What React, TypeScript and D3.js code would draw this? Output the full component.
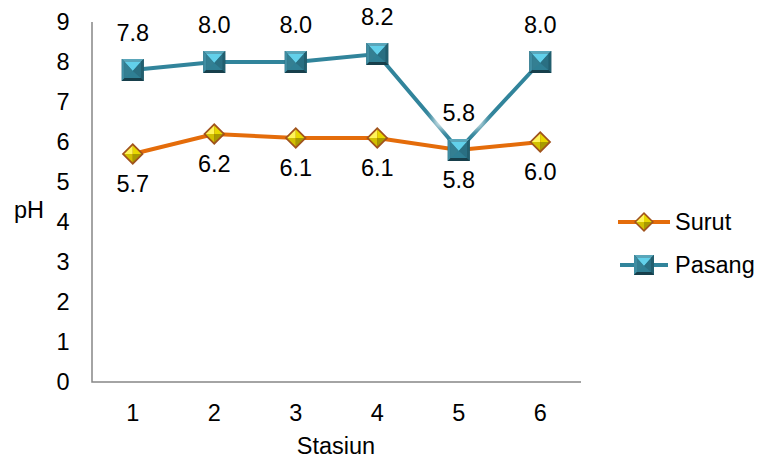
import React from "react";
import * as d3 from "d3";

const stations = ["1", "2", "3", "4", "5", "6"];
const surut = [5.7, 6.2, 6.1, 6.1, 5.8, 6.0];
const pasang = [7.8, 8.0, 8.0, 8.2, 5.8, 8.0];
const yTicks = [0, 1, 2, 3, 4, 5, 6, 7, 8, 9];

const W = 759;
const H = 461;
const margin = { left: 92, right: 178, top: 22, bottom: 79 };
const FONT = "'Liberation Sans', Arial, sans-serif";
const FS = 23.5;

const ORANGE = "#E46C0A";
const TEAL = "#31849B";

function Diamond({ x, y, s = 11 }: { x: number; y: number; s?: number }) {
  const t = [x, y - s], r = [x + s, y], b = [x, y + s], l = [x - s, y];
  const c = [x, y];
  const tri = (p: number[][]) => p.map((q) => q.join(",")).join(" ");
  return (
    <g>
      <polygon points={tri([t, r, b, l])} fill="#a0521c" />
      <g transform={`translate(${x},${y}) scale(0.78) translate(${-x},${-y})`}>
        <polygon points={tri([t, c, l])} fill="#fff45a" />
        <polygon points={tri([t, r, c])} fill="#e8d800" />
        <polygon points={tri([l, c, b])} fill="#d2c000" />
        <polygon points={tri([c, r, b])} fill="#a89a00" />
      </g>
    </g>
  );
}

function Square({ x, y, s = 11 }: { x: number; y: number; s?: number }) {
  const tl = [x - s, y - s], tr = [x + s, y - s], br = [x + s, y + s], bl = [x - s, y + s];
  const k = s - 3;
  const itl = [x - k, y - k], itr = [x + k, y - k], ibr = [x + k, y + k], ibl = [x - k, y + k];
  const c = [x, y + 1];
  const p = (q: number[][]) => q.map((v) => v.join(",")).join(" ");
  return (
    <g>
      <polygon points={p([tl, tr, br, bl])} fill="#1c4e5c" />
      <polygon points={p([tl, tr, itr, itl])} fill="#5aa6ba" />
      <polygon points={p([tl, itl, ibl, bl])} fill="#3f8da2" />
      <polygon points={p([tr, br, ibr, itr])} fill="#225f6f" />
      <polygon points={p([bl, ibl, ibr, br])} fill="#173f4b" />
      <polygon points={p([itl, itr, ibr, ibl])} fill="#2f7f94" />
      <polygon points={p([itl, itr, c])} fill="#62d0ea" />
      <polygon points={p([itl, c, ibl])} fill="#347f92" />
      <polygon points={p([itr, ibr, c])} fill="#2a6f82" />
    </g>
  );
}

export default function App() {
  const x = d3
    .scaleBand<string>()
    .domain(stations)
    .range([margin.left, W - margin.right]);
  const y = d3.scaleLinear().domain([0, 9]).range([H - margin.bottom, margin.top]);
  const cx = (s: string) => (x(s) ?? 0) + x.bandwidth() / 2;

  const line = d3
    .line<number>()
    .x((_, i) => cx(stations[i]))
    .y((d) => y(d));

  const y0 = y(0);

  return (
    <svg width={W} height={H} style={{ position: "absolute", left: 0, top: 0 }}>
      <defs>
        <filter id="glow" x="-50%" y="-50%" width="200%" height="200%">
          <feGaussianBlur stdDeviation="4" />
        </filter>
      </defs>
      <rect width={W} height={H} fill="#fff" />

      {/* axes */}
      <path
        d={`M${margin.left},${y(9)}V${y0}H${W - margin.right}`}
        fill="none"
        stroke="#868686"
        strokeWidth={1.5}
      />
      {yTicks.map((t) => (
        <text
          key={t}
          x={63}
          y={y(t)}
          dy="0.36em"
          textAnchor="middle"
          fontFamily={FONT}
          fontSize={FS}
          fill="#000"
        >
          {t}
        </text>
      ))}
      {stations.map((s) => (
        <text
          key={s}
          x={cx(s)}
          y={y0 + 31}
          dy="0.36em"
          textAnchor="middle"
          fontFamily={FONT}
          fontSize={FS}
          fill="#000"
        >
          {s}
        </text>
      ))}
      <text x={29} y={210} dy="0.36em" textAnchor="middle" fontFamily={FONT} fontSize={FS}>
        pH
      </text>
      <text x={336} y={446} dy="0.36em" textAnchor="middle" fontFamily={FONT} fontSize={FS}>
        Stasiun
      </text>

      {/* series lines */}
      <path d={line(surut) ?? ""} fill="none" stroke={ORANGE} strokeWidth={4} />
      <path d={line(pasang) ?? ""} fill="none" stroke={TEAL} strokeWidth={4} />

      {/* soft backgrounds behind Pasang labels */}
      {pasang.map((v, i) => (
        <rect
          key={"bg" + i}
          x={cx(stations[i]) - 24}
          y={y(v) - 52}
          width={48}
          height={30}
          fill="#fff"
          filter="url(#glow)"
        />
      ))}

      {/* markers */}
      {surut.map((v, i) => (
        <Diamond key={"d" + i} x={cx(stations[i])} y={y(v)} />
      ))}
      {pasang.map((v, i) => (
        <Square key={"s" + i} x={cx(stations[i])} y={y(v)} />
      ))}

      {/* value labels */}
      {surut.map((v, i) => (
        <text
          key={"ls" + i}
          x={cx(stations[i])}
          y={y(v) + 30}
          dy="0.36em"
          textAnchor="middle"
          fontFamily={FONT}
          fontSize={FS}
        >
          {v.toFixed(1)}
        </text>
      ))}
      {pasang.map((v, i) => (
        <text
          key={"lp" + i}
          x={cx(stations[i])}
          y={y(v) - 37}
          dy="0.36em"
          textAnchor="middle"
          fontFamily={FONT}
          fontSize={FS}
        >
          {v.toFixed(1)}
        </text>
      ))}

      {/* legend */}
      <line x1={618} x2={670} y1={222} y2={222} stroke={ORANGE} strokeWidth={4} />
      <Diamond x={644} y={222} s={10} />
      <text x={675} y={222} dy="0.36em" fontFamily={FONT} fontSize={FS}>
        Surut
      </text>
      <line x1={620} x2={668} y1={265} y2={265} stroke={TEAL} strokeWidth={4} />
      <Square x={644} y={265} s={10} />
      <text x={675} y={265} dy="0.36em" fontFamily={FONT} fontSize={FS}>
        Pasang
      </text>
    </svg>
  );
}
